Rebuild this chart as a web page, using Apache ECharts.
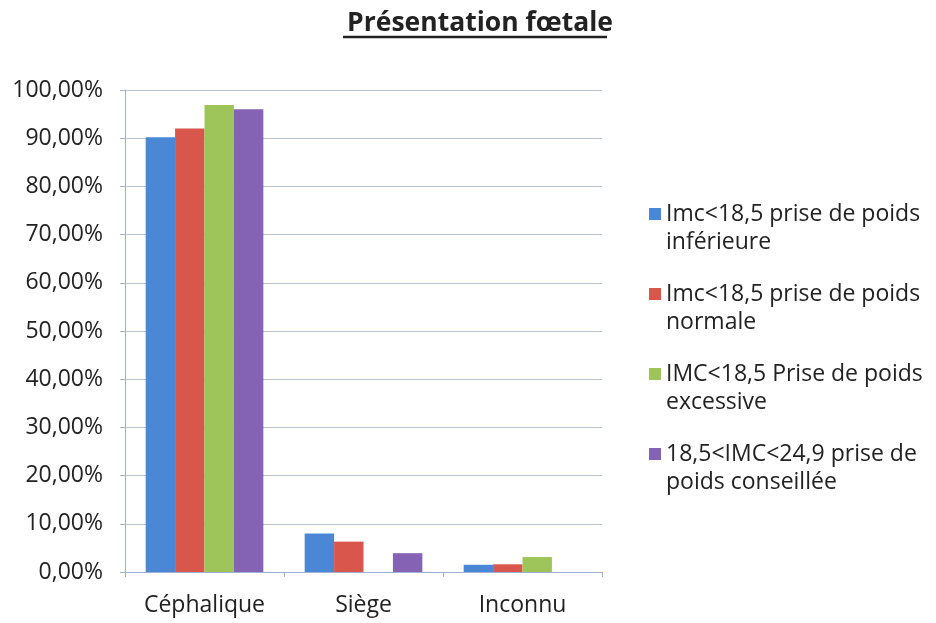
<!DOCTYPE html>
<html><head><meta charset="utf-8">
<script src="https://cdn.jsdelivr.net/npm/echarts@6/dist/echarts.min.js"></script>
<style>html,body{margin:0;padding:0;background:#fff}#c{width:936px;height:623px}</style>
</head><body><div id="c"></div>
<script>
const categories = ['Céphalique', 'Siège', 'Inconnu'];
const seriesNames = [
  'Imc<18,5 prise de poids\ninférieure',
  'Imc<18,5 prise de poids\nnormale',
  'IMC<18,5 Prise de poids\nexcessive',
  '18,5<IMC<24,9 prise de\npoids conseillée'
];
const imcInferieure = [90.2, 8.0, 1.5];
const imcNormale = [92.0, 6.3, 1.6];
const imcExcessive = [96.9, 0, 3.1];
const imcNormalConseillee = [96.0, 3.9, 0];
const colors = ['#4a88d6', '#d9564c', '#9dc55a', '#8462b4'];
const values = [imcInferieure, imcNormale, imcExcessive, imcNormalConseillee];

const font = 'Open Sans';
const chart = echarts.init(document.getElementById('c'));
chart.setOption({
  animation: false,
  title: {
    text: 'Présentation fœtale', left: 475, top: 5, textAlign: 'center',
    textStyle: { fontFamily: font, fontSize: 26.5, fontWeight: 'bold', color: '#222' }
  },
  graphic: [{ type: 'line', shape: { x1: 343, y1: 37, x2: 607, y2: 37 }, style: { stroke: '#222', lineWidth: 2.5 } }],
  grid: { left: 125, right: 334, top: 90, bottom: 51 },
  legend: {
    orient: 'vertical', left: 644, top: 167, itemGap: -4, itemWidth: 12, itemHeight: 12,
    icon: 'rect',
    formatter: name => '\n' + name,
    textStyle: { fontFamily: font, fontSize: 23, color: '#222', lineHeight: 28 }
  },
  xAxis: {
    type: 'category', data: categories,
    axisLine: { lineStyle: { color: '#9fb3cf' } },
    axisTick: { show: true, length: 5, lineStyle: { color: '#9fb3cf' } },
    axisLabel: { fontFamily: font, fontSize: 23, color: '#222', margin: 22 }
  },
  yAxis: {
    type: 'value', min: 0, max: 100, interval: 10,
    axisLine: { show: true, lineStyle: { color: '#9fb3cf' } },
    axisTick: { show: true, length: 5, lineStyle: { color: '#9fb3cf' } },
    splitLine: { lineStyle: { color: '#b8c3d6', width: 1 } },
    axisLabel: { fontFamily: font, fontSize: 23, color: '#222', margin: 22,
      formatter: v => v.toFixed(2).replace('.', ',') + '%' }
  },
  series: seriesNames.map((n, i) => ({
    name: n, type: 'bar', data: values[i], barGap: '0%', barCategoryGap: '26%',
    itemStyle: { color: colors[i] }
  }))
});
</script></body></html>
